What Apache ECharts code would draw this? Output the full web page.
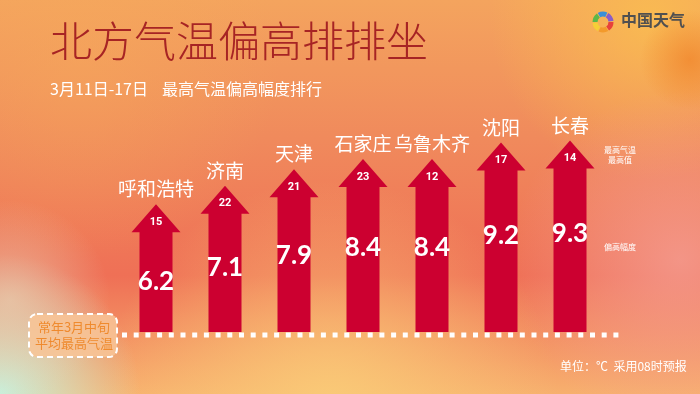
<!DOCTYPE html>
<html><head><meta charset="utf-8">
<script src="https://cdn.jsdelivr.net/npm/echarts@6/dist/echarts.min.js"></script>
<style>html,body{margin:0;padding:0;}#c{width:700px;height:394px;}</style>
</head><body><div id="c"></div>
<script>
const cities = ['呼和浩特','济南','天津','石家庄','乌鲁木齐','沈阳','长春'];
const anomaly = [6.2, 7.1, 7.9, 8.4, 8.4, 9.2, 9.3];
const maxTemp = [15, 22, 21, 23, 12, 17, 14];

const CJK = '"Noto Sans CJK SC", sans-serif';
const chart = echarts.init(document.getElementById('c'));
const data = anomaly.map((v, i) => [i, v, maxTemp[i]]);

function radial(cx, cy, r, color, alpha) {
  return { type: 'circle', silent: true, z: -90,
    shape: { cx: cx, cy: cy, r: r },
    style: { fill: new echarts.graphic.RadialGradient(0.5, 0.5, 0.5, [
      { offset: 0, color: color.replace('A', alpha) },
      { offset: 1, color: color.replace('A', 0) }]) } };
}

const logoColors = ['#e8413a','#f39a2b','#f6cf36','#5cb848','#3a8fd8','#8a5cc8'];
const logo = logoColors.map((c, k) => ({
  type: 'arc', silent: true, z: 10,
  shape: { cx: 603, cy: 22, r: 8, startAngle: k * Math.PI / 3, endAngle: k * Math.PI / 3 + Math.PI / 3.3 },
  style: { stroke: c, lineWidth: 5, fill: null }
}));

chart.setOption({
  animation: false,
  backgroundColor: 'transparent',
  grid: { left: 121.5, right: 95.5, top: 126, bottom: 62 },
  xAxis: { type: 'category', data: cities, show: false },
  yAxis: { type: 'value', min: 0, max: 10, show: false },
  graphic: [
    { type: 'rect', silent: true, z: -100, shape: { x: 0, y: 0, width: 700, height: 394 },
      style: { fill: new echarts.graphic.LinearGradient(0, 0, 0, 1, [
        { offset: 0, color: '#f4a45e' },
        { offset: 0.35, color: '#f08a5c' },
        { offset: 0.7, color: '#ef7056' },
        { offset: 1, color: '#f7b06e' }]) } },
    radial(650, 20, 160, 'rgba(250,190,80,A)', 0.85),
    radial(80, 60, 200, 'rgba(246,170,90,A)', 0.5),
    radial(680, 260, 170, 'rgba(245,160,150,A)', 0.75),
    radial(330, 410, 230, 'rgba(250,205,120,A)', 0.9),
    radial(0, 394, 140, 'rgba(200,240,220,A)', 1),
    radial(10, 300, 100, 'rgba(232,205,175,A)', 0.7),
    radial(690, 60, 50, 'rgba(240,130,40,A)', 0.7),
    { type: 'text', silent: true, z: 10, x: 50, y: 20,
      style: { text: '北方气温偏高排排坐', fill: '#a72424', font: '300 42px ' + CJK } },
    { type: 'text', silent: true, z: 10, x: 50, y: 89,
      style: { text: '3月11日-17日', fill: '#ffffff', font: '16px ' + CJK, verticalAlign: 'middle' } },
    { type: 'text', silent: true, z: 10, x: 162, y: 89,
      style: { text: '最高气温偏高幅度排行', fill: '#ffffff', font: '16px ' + CJK, verticalAlign: 'middle' } },
    ...logo,
    { type: 'text', silent: true, z: 10, x: 621, y: 12,
      style: { text: '中国天气', fill: '#505050', font: 'bold 16px ' + CJK } },
    { type: 'text', silent: true, z: 10, x: 620, y: 155,
      style: { text: '最高气温\n最高值', fill: '#ffffff', font: '8px ' + CJK, align: 'center', verticalAlign: 'middle', lineHeight: 10 } },
    { type: 'text', silent: true, z: 10, x: 620, y: 247,
      style: { text: '偏高幅度', fill: '#ffffff', font: '8px ' + CJK, align: 'center', verticalAlign: 'middle' } },
    { type: 'rect', silent: true, z: 5, shape: { x: 29, y: 314, width: 88, height: 43, r: 8 },
      style: { fill: 'rgba(248,196,150,0.85)', stroke: '#ffffff', lineWidth: 2, lineDash: [6, 4] } },
    { type: 'text', silent: true, z: 6, x: 74, y: 335.5,
      style: { text: '常年3月中旬\n平均最高气温', fill: '#ef8a2e', font: '13px ' + CJK, lineHeight: 16, align: 'center', verticalAlign: 'middle' } },
    { type: 'line', silent: true, z: 4, shape: { x1: 122, y1: 335, x2: 620, y2: 335 },
      style: { stroke: '#ffffff', lineWidth: 5, lineDash: [5, 6.7] } },
    { type: 'text', silent: true, z: 10, x: 560, y: 360,
      style: { text: '单位：℃  采用08时预报', fill: '#ffffff', font: '12px ' + CJK } }
  ],
  series: [{
    type: 'custom',
    data: data,
    encode: { x: 0, y: 1 },
    z: 3,
    renderItem: function (params, api) {
      const i = api.value(0), v = api.value(1), t = api.value(2);
      const base = api.coord([i, 0]);
      const tip = api.coord([i, v]);
      const cx = base[0];
      const sw = 16.5, hw = 24.5, hh = 28;
      const lab = api.coord([i, v * 0.75 - 2.2]);
      return { type: 'group', children: [
        { type: 'polygon', shape: { points: [
          [cx - sw, base[1]], [cx - sw, tip[1] + hh], [cx - hw, tip[1] + hh], [cx, tip[1]],
          [cx + hw, tip[1] + hh], [cx + sw, tip[1] + hh], [cx + sw, base[1]]] },
          style: { fill: '#cc0030' } },
        { type: 'text', style: { x: cx, y: tip[1] + 18, text: String(t), fill: '#ffffff',
          font: 'bold 11px Roboto, sans-serif', align: 'center', verticalAlign: 'middle' } },
        { type: 'text', style: { x: cx, y: lab[1], text: v.toFixed(1), fill: '#ffffff',
          font: 'bold 26px Lato, Roboto, sans-serif', align: 'center', verticalAlign: 'middle' } },
        { type: 'text', style: { x: cx, y: tip[1] - 15, text: cities[i], fill: '#ffffff',
          font: '19px ' + CJK, align: 'center', verticalAlign: 'middle' } }
      ] };
    }
  }]
});
</script>
</body></html>
